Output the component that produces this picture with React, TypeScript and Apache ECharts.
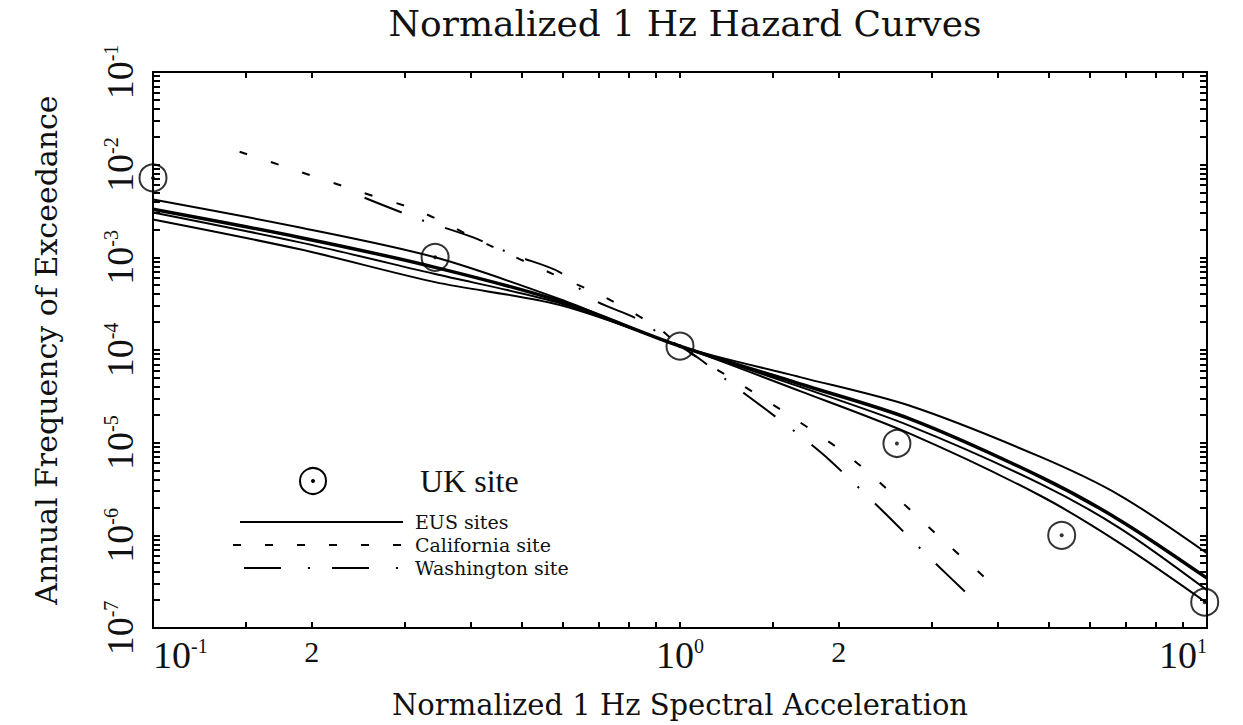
import React, { useEffect, useRef } from "react";
import * as echarts from "echarts";

// ---------- data ----------
const ukSiteX = [0.1, 0.343, 1.0, 2.58, 5.3, 9.9];
const ukSiteY = [7.2e-3, 1.0e-3, 1.1e-4, 9.8e-6, 1.0e-6, 1.9e-7];

const eusX = [0.1, 0.19, 0.343, 0.592, 1.0, 1.69, 2.73, 4.82, 6.84, 10];
const eus1Y = [4.2e-3, 2.1e-3, 1.0e-3, 3.53e-4, 1.1e-4, 5.1e-5, 2.5e-5, 7.06e-6, 2.69e-6, 6.4e-7];
const eus2Y = [3.3e-3, 1.64e-3, 7.8e-4, 3.36e-4, 1.1e-4, 4.3e-5, 1.81e-5, 4.3e-6, 1.45e-6, 3.45e-7];
const eus3Y = [3.05e-3, 1.45e-3, 6.6e-4, 3.2e-4, 1.1e-4, 4.0e-5, 1.52e-5, 3.62e-6, 1.19e-6, 2.56e-7];
const eus4Y = [2.56e-3, 1.22e-3, 5.4e-4, 3.05e-4, 1.1e-4, 3.6e-5, 1.25e-5, 2.69e-6, 8.2e-7, 1.86e-7];

const calX = [0.146, 0.19, 0.247, 0.321, 0.431, 0.574, 0.721, 0.916, 1.0, 1.31, 1.65, 2.06, 2.55, 3.16, 3.99];
const calY = [1.38e-2, 8.4e-3, 5.1e-3, 3.13e-3, 1.38e-3, 6.6e-4, 3.7e-4, 1.68e-4, 1.1e-4, 4.2e-5, 1.81e-5, 7.6e-6, 2.7e-6, 8.8e-7, 2.7e-7];

const washX = [0.252, 0.321, 0.405, 0.486, 0.592, 0.684, 0.832, 0.945, 1.0, 1.09, 1.24, 1.45, 1.69, 1.91, 2.43, 2.97, 3.66];
const washY = [4.4e-3, 2.56e-3, 1.64e-3, 1.05e-3, 6.9e-4, 3.5e-4, 2.15e-4, 1.31e-4, 1.1e-4, 8.0e-5, 4.5e-5, 2.32e-5, 1.19e-5, 6.7e-6, 1.81e-6, 5.8e-7, 1.86e-7];

const xMinorMult = [1.5, 2, 3, 4, 5, 6, 7, 8, 9];
const xLabelValues = [0.1, 0.2, 1, 2, 10];
const yMajorExp = [-7, -6, -5, -4, -3, -2, -1];
const yMinorMult = [2, 3, 4, 5, 6, 7, 8, 9];

const titleText = "Normalized 1 Hz Hazard Curves";
const xTitle = "Normalized 1 Hz Spectral Acceleration";
const yTitle = "Annual Frequency of Exceedance";
const legendLabels = ["UK site", "EUS sites", "California site", "Washington site"];

// ---------- helpers ----------
const lg = (v: number) => Math.log10(v);
const pairs = (xs: number[], ys: number[]) => xs.map((x, i) => [lg(x), lg(ys[i])]);

const xTicks: number[] = [];
for (let e = -1; e < 1; e++) {
  xTicks.push(e);
  xMinorMult.forEach((m) => xTicks.push(e + lg(m)));
}
xTicks.push(1);
const yTicks: number[] = [];
for (let e = -7; e < -1; e++) {
  yTicks.push(e);
  yMinorMult.forEach((m) => yTicks.push(e + lg(m)));
}
yTicks.push(-1);

const SERIF = "'Liberation Serif', 'DejaVu Serif', serif";
const WIDE = "'DejaVu Serif', serif";
const near = (a: number, b: number) => Math.abs(a - b) < 1e-6;

export default function App() {
  const ref = useRef<HTMLDivElement>(null);
  useEffect(() => {
    if (!ref.current) return;
    const chart = echarts.init(ref.current, undefined, { renderer: "svg" });
    const richLabel = {
      b: { fontSize: 38, fontFamily: SERIF, color: "#111" },
      s: { fontSize: 20, fontFamily: SERIF, color: "#111", verticalAlign: "top", padding: [0, 0, 18, 0] },
      m: { fontSize: 30, fontFamily: SERIF, color: "#111" },
    };
    const lineStyleAxis = { color: "#000", width: 2 };
    const blackLine = (w: number) => ({ color: "#000", width: w });
    const tickStyle = { color: "#000", width: 2 };

    chart.setOption({
      animation: false,
      backgroundColor: "#fff",
      title: {
        text: titleText,
        left: 680,
        textAlign: "center",
        top: 0,
        textStyle: { fontFamily: WIDE, fontWeight: "normal", fontSize: 36, color: "#111" },
      },
      grid: { left: 153, right: 36, top: 72, bottom: 97, containLabel: false },
      xAxis: [
        {
          type: "value",
          min: -1,
          max: 1,
          position: "bottom",
          axisLine: { onZero: false, lineStyle: lineStyleAxis },
          axisTick: { inside: true, length: 6, customValues: xTicks, lineStyle: tickStyle },
          splitLine: { show: false },
          axisLabel: {
            customValues: xLabelValues.map(lg),
            margin: 8,
            alignMinLabel: "left",
            alignMaxLabel: "right",
            formatter: (v: number) => {
              if (near(v, -1) || near(v, 0) || near(v, 1)) return `{b|10}{s|${Math.round(v)}}`;
              return `{m|${Math.round(Math.pow(10, v - Math.floor(v + 1e-9)))}}`;
            },
            rich: richLabel,
          },
          name: xTitle,
          nameLocation: "middle",
          nameGap: 62,
          nameTextStyle: { fontFamily: WIDE, fontSize: 29, color: "#111" },
        },
        {
          type: "value",
          min: -1,
          max: 1,
          position: "top",
          axisLine: { onZero: false, lineStyle: lineStyleAxis },
          axisTick: { inside: true, length: 6, customValues: xTicks, lineStyle: tickStyle },
          axisLabel: { show: false },
          splitLine: { show: false },
        },
      ],
      yAxis: [
        {
          type: "value",
          min: -7,
          max: -1,
          interval: 1,
          position: "left",
          axisLine: { show: true, onZero: false, lineStyle: lineStyleAxis },
          axisTick: { show: true, inside: true, length: 7, customValues: yTicks, lineStyle: tickStyle },
          splitLine: { show: false },
          axisLabel: {
            customValues: yMajorExp,
            rotate: 90,
            margin: 14,
            formatter: (v: number) => `{b|10}{s|${Math.round(v)}}`,
            rich: richLabel,
          },
          name: yTitle,
          nameLocation: "middle",
          nameGap: 92,
          nameTextStyle: { fontFamily: WIDE, fontSize: 30, color: "#111" },
        },
        {
          type: "value",
          min: -7,
          max: -1,
          interval: 1,
          position: "right",
          axisLine: { show: true, onZero: false, lineStyle: lineStyleAxis },
          axisTick: { show: true, inside: true, length: 7, customValues: yTicks, lineStyle: tickStyle },
          axisLabel: { show: false },
          splitLine: { show: false },
        },
      ],
      series: [
        { name: "EUS 1", type: "line", data: pairs(eusX, eus1Y), smooth: 0.3, showSymbol: false, lineStyle: blackLine(2) },
        { name: "EUS 2", type: "line", data: pairs(eusX, eus2Y), smooth: 0.3, showSymbol: false, lineStyle: blackLine(3.5) },
        { name: "EUS 3", type: "line", data: pairs(eusX, eus3Y), smooth: 0.3, showSymbol: false, lineStyle: blackLine(2) },
        { name: "EUS 4", type: "line", data: pairs(eusX, eus4Y), smooth: 0.3, showSymbol: false, lineStyle: blackLine(2) },
        {
          name: "California site", type: "line", data: pairs(calX, calY), smooth: 0.3, showSymbol: false,
          lineStyle: { color: "#000", width: 2, type: [8, 25] },
        },
        {
          name: "Washington site", type: "line", data: pairs(washX, washY), smooth: 0.3, showSymbol: false,
          lineStyle: { color: "#000", width: 2, type: [40, 22, 2, 22] },
        },
        {
          name: "UK site", type: "scatter", data: pairs(ukSiteX, ukSiteY), symbol: "circle", symbolSize: 27,
          clip: false, itemStyle: { color: "transparent", borderColor: "#000", borderWidth: 2 }, z: 5,
        },
        {
          name: "UK site dot", type: "scatter", data: pairs(ukSiteX, ukSiteY), symbol: "circle", symbolSize: 4,
          clip: false, itemStyle: { color: "#000" }, z: 6,
        },
      ],
      graphic: [
        { type: "circle", shape: { cx: 313, cy: 481, r: 13 }, style: { fill: "none", stroke: "#000", lineWidth: 2 } },
        { type: "circle", shape: { cx: 313, cy: 481, r: 2 }, style: { fill: "#000" } },
        { type: "text", x: 420, y: 481, style: { text: legendLabels[0], font: `32px ${SERIF}`, fill: "#111", verticalAlign: "middle" } },
        { type: "line", shape: { x1: 240, y1: 522, x2: 403, y2: 522 }, style: { stroke: "#000", lineWidth: 2 } },
        { type: "line", shape: { x1: 233, y1: 545, x2: 401, y2: 545 }, style: { stroke: "#000", lineWidth: 2, lineDash: [8, 24] } },
        { type: "line", shape: { x1: 244, y1: 568, x2: 400, y2: 568 }, style: { stroke: "#000", lineWidth: 2, lineDash: [37, 27, 2, 22] } },
        { type: "text", x: 415, y: 522, style: { text: legendLabels[1], font: `19px ${WIDE}`, fill: "#111", verticalAlign: "middle" } },
        { type: "text", x: 415, y: 545, style: { text: legendLabels[2], font: `19px ${WIDE}`, fill: "#111", verticalAlign: "middle" } },
        { type: "text", x: 415, y: 568, style: { text: legendLabels[3], font: `19px ${WIDE}`, fill: "#111", verticalAlign: "middle" } },
      ],
    });
    return () => chart.dispose();
  }, []);
  return <div ref={ref} style={{ position: "fixed", left: 0, top: 0, width: 1243, height: 725, background: "#fff" }} />;
}
